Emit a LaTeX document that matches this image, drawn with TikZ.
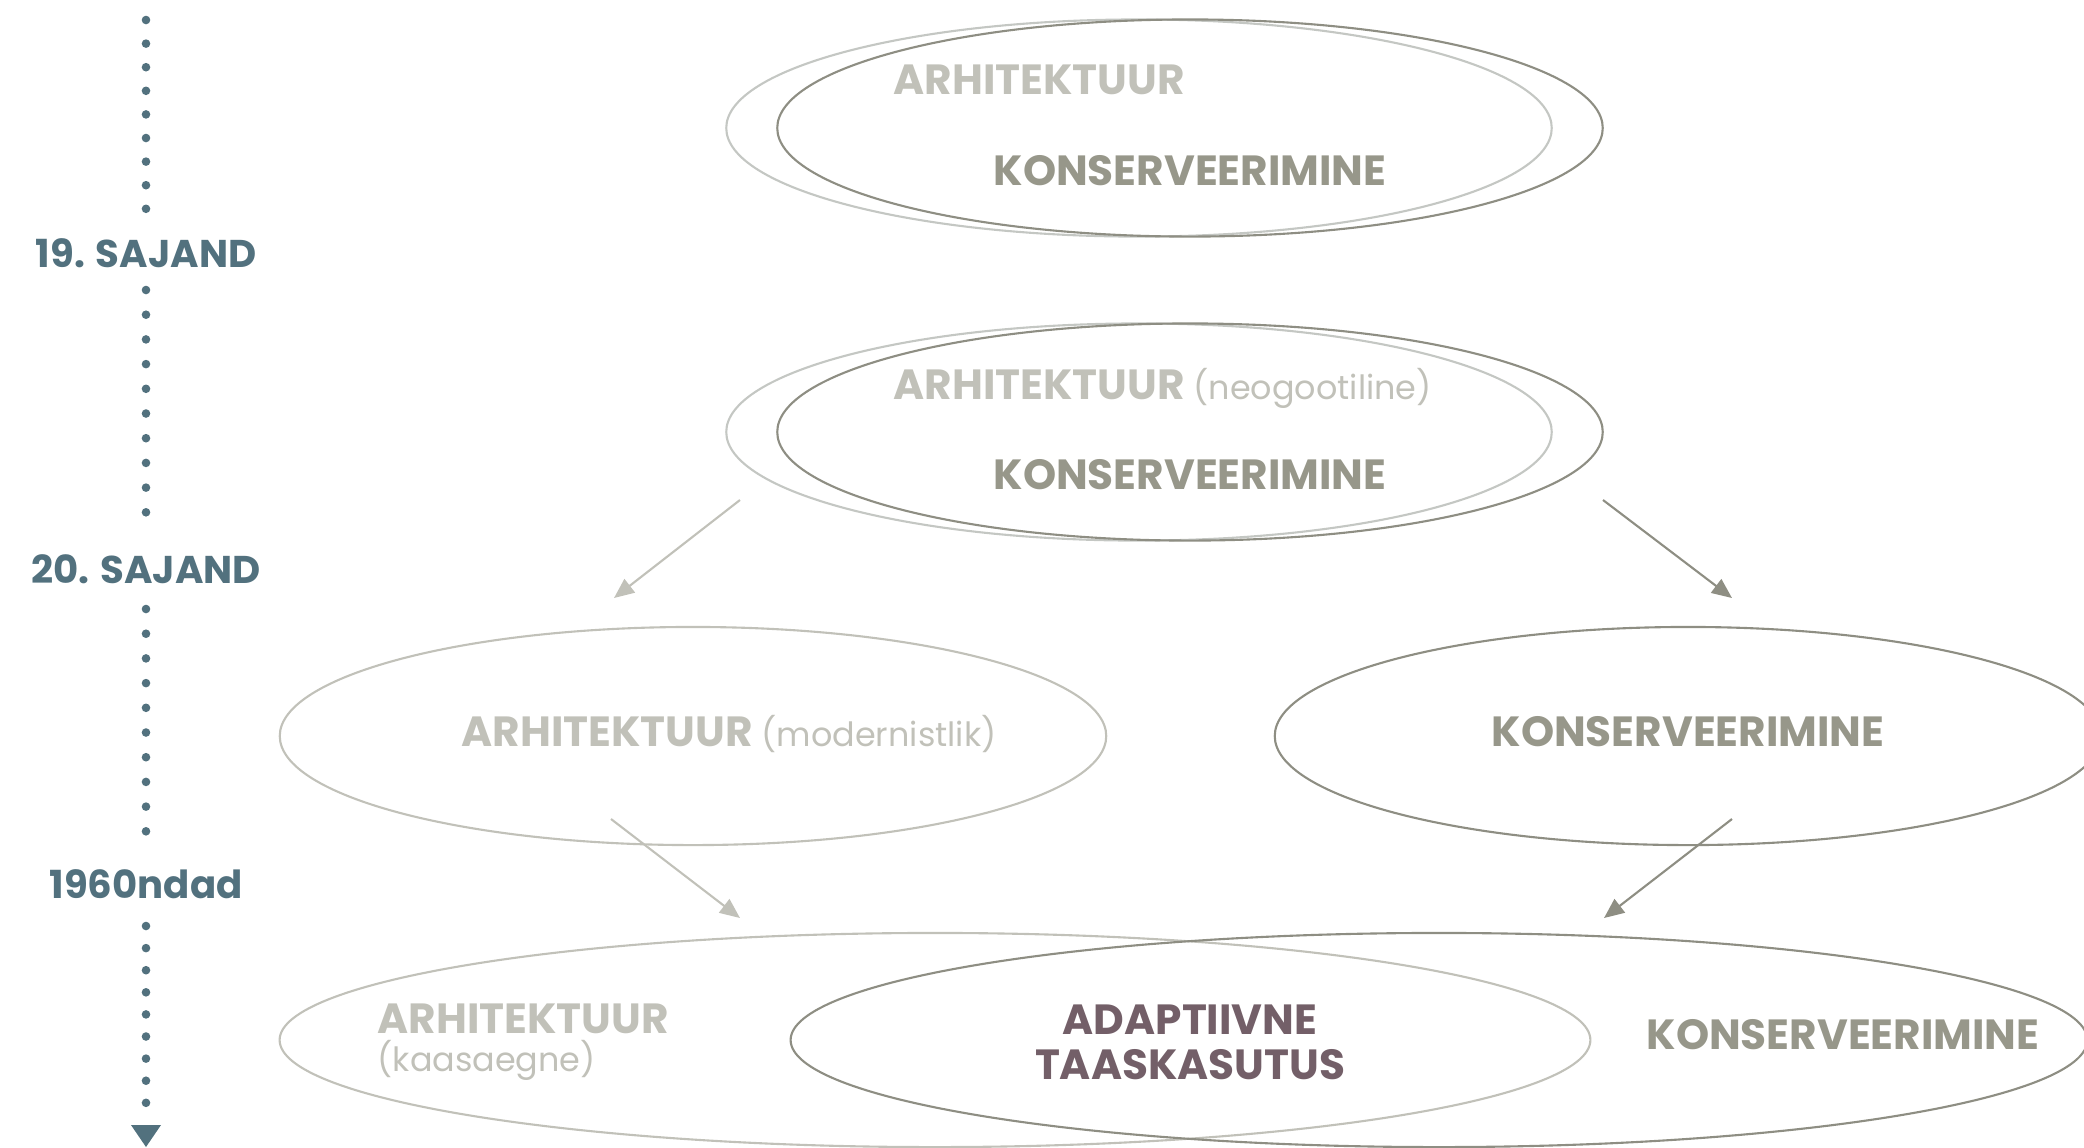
\documentclass[tikz,border=0pt]{standalone}
\usepackage{fontspec}
\setmainfont{Poppins}
\usetikzlibrary{shapes.geometric,arrows.meta}

\definecolor{timeline}{HTML}{52717E}
\definecolor{lightline}{HTML}{C4C7C3}
\definecolor{lighttext}{HTML}{C1C1B9}
\definecolor{darkline}{HTML}{8E8E83}
\definecolor{darktext}{HTML}{97978A}
\definecolor{adapt}{HTML}{735F68}

\tikzset{
  oval/.style={draw, ellipse, inner sep=0pt, line width=0.6pt},
  ovallight/.style={oval, draw=lightline},
  ovaldark/.style={oval, draw=darkline},
  capsfont/.style={inner sep=0pt, font=\fontsize{12}{14}\selectfont\bfseries},
  archtext/.style={capsfont, text=lighttext},
  constext/.style={capsfont, text=darktext},
  eratext/.style={capsfont, font=\fontsize{11}{13}\selectfont\bfseries, text=timeline},
  arrowlight/.style={draw=lighttext, line width=0.6pt, -{Triangle[length=0.2cm,width=0.17cm]}},
  arrowdark/.style={draw=darkline, line width=0.6pt, -{Triangle[length=0.2cm,width=0.17cm]}}
}
\newcommand{\soft}[1]{{\mdseries\fontsize{9.5}{12}\selectfont #1}}

\begin{document}
\begin{tikzpicture}[x=0.01cm, y=-0.01cm]
  \useasboundingbox (0,0) rectangle (2084,1147);

  %% Timeline
  \node[eratext, anchor=base] (era19) at (146,267) {19. SAJAND};
  \node[eratext, anchor=base] (era20) at (146,583) {20. SAJAND};
  \node[eratext, anchor=base] (era60) at (146,898) {1960ndad};
  \foreach \i in {0,...,8}
    \fill[timeline] (146,20+\i*23.6) circle[radius=4.3];
  \foreach \i in {0,...,9}
    \fill[timeline] (146,290+\i*24.7) circle[radius=4.3];
  \foreach \i in {0,...,9}
    \fill[timeline] (146,609+\i*24.7) circle[radius=4.3];
  \foreach \i in {0,...,8}
    \fill[timeline] (146,926+\i*22.1) circle[radius=4.3];
  \fill[timeline] (131,1125) -- (161,1125) -- (146,1147) -- cycle;

  %% 19th century
  \node[ovallight, minimum width=8.25cm, minimum height=2.17cm] (arch19) at (1139,128) {};
  \node[ovaldark, minimum width=8.25cm, minimum height=2.17cm] (cons19) at (1190,128) {};
  \node[archtext, anchor=base west] (arch19t) at (893,94) {ARHITEKTUUR};
  \node[constext, anchor=base] (cons19t) at (1190,185) {KONSERVEERIMINE};

  %% 20th century
  \node[ovallight, minimum width=8.25cm, minimum height=2.17cm] (arch20) at (1139,432) {};
  \node[ovaldark, minimum width=8.25cm, minimum height=2.17cm] (cons20) at (1190,432) {};
  \node[archtext, anchor=base west] (arch20t) at (893,399) {ARHITEKTUUR \soft{(neogootiline)}};
  \node[constext, anchor=base] (cons20t) at (1190,489) {KONSERVEERIMINE};

  \coordinate (splitl) at (740,500);
  \coordinate (splitlend) at (614,598);
  \coordinate (splitr) at (1603,500);
  \coordinate (splitrend) at (1732,598);
  \draw[arrowlight] (splitl) -- (splitlend);
  \draw[arrowdark] (splitr) -- (splitrend);

  %% Separate paths
  \node[ovallight, draw=lighttext, minimum width=8.26cm, minimum height=2.18cm] (archmod) at (693,736) {};
  \node[ovaldark, minimum width=8.26cm, minimum height=2.18cm] (consmod) at (1688,736) {};
  \node[archtext, anchor=base west] (archmodt) at (461,746) {ARHITEKTUUR \soft{(modernistlik)}};
  \node[constext, anchor=base] (consmodt) at (1688,746) {KONSERVEERIMINE};

  \coordinate (joinl) at (611,819);
  \coordinate (joinlend) at (740,918);
  \coordinate (joinr) at (1732,819);
  \coordinate (joinrend) at (1604,918);
  \draw[arrowlight] (joinl) -- (joinlend);
  \draw[arrowdark] (joinr) -- (joinrend);

  %% 1960s
  \node[ovallight, draw=lighttext, minimum width=13.1cm, minimum height=2.14cm] (archnow) at (935,1040) {};
  \node[ovaldark, minimum width=12.96cm, minimum height=2.14cm] (consnow) at (1439,1040) {};
  \node[archtext, anchor=base west] (archnowt) at (377,1033) {ARHITEKTUUR};
  \node[archtext, anchor=base west] (archnows) at (377,1071) {\soft{(kaasaegne)}};
  \node[capsfont, text=adapt, anchor=base] (adapt1) at (1190,1034) {ADAPTIIVNE};
  \node[capsfont, text=adapt, anchor=base] (adapt2) at (1190,1079) {TAASKASUTUS};
  \node[constext, anchor=base] (consnowt) at (1843,1049) {KONSERVEERIMINE};
\end{tikzpicture}
\end{document}
